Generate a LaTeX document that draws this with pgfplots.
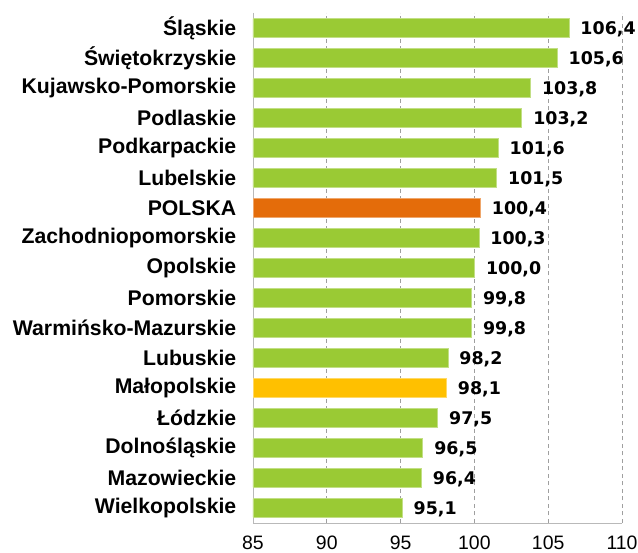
\documentclass[border=0pt]{standalone}
\usepackage{fontspec}
\usepackage{pgfplots}
\pgfplotsset{compat=1.18}
\setmainfont{Liberation Sans}
\newfontfamily\catfont{Liberation Sans}
\newfontfamily\valfont{DejaVu Sans}
\definecolor{barGreen}{RGB}{154,202,52}
\definecolor{barOrange}{RGB}{228,108,10}
\definecolor{barYellow}{RGB}{255,192,0}
\begin{document}
\begin{tikzpicture}
\begin{axis}[
  scale only axis,
  width=369bp, height=510bp,
  xbar, bar shift=0pt, bar width=0.63,
  xmin=85, xmax=110, ymin=-0.5, ymax=16.5,
  clip mode=individual,
  axis lines*=left,
  axis line style={draw=gray!55, line width=0.8pt, -},
  xtick={85,90,95,100,105,110},
  xmajorgrids,
  grid style={draw=gray!75, dash pattern=on 4bp off 3.5bp, line width=0.6pt},
  tick style={draw=none},
  ytick={0,...,16},
  yticklabels={Wielkopolskie,Mazowieckie,Dolnośląskie,Łódzkie,Małopolskie,Lubuskie,Warmińsko-Mazurskie,Pomorskie,Opolskie,Zachodniopomorskie,POLSKA,Lubelskie,Podkarpackie,Podlaskie,Kujawsko-Pomorskie,Świętokrzyskie,Śląskie},
  yticklabel style={font=\catfont\bfseries\fontsize{21.3}{23}\selectfont, xshift=-9bp},
  xticklabel style={font=\catfont\fontsize{19.5}{21}\selectfont, yshift=-9bp},
  /pgf/number format/assume math mode=true,
  nodes near coords,
  nodes near coords style={font=\valfont\bfseries\fontsize{17.5}{19}\selectfont, anchor=west, xshift=8bp, yshift=-1bp,
    /pgf/number format/.cd, fixed, fixed zerofill, precision=1, use comma, assume math mode=true},
]
\addplot[fill=barGreen, draw=barGreen!60!white, line width=0.6pt] coordinates {
  (95.1,0) (96.4,1) (96.5,2) (97.5,3) (98.2,5) (99.8,6) (99.8,7) (100.0,8) (100.3,9)
  (101.5,11) (101.6,12) (103.2,13) (103.8,14) (105.6,15) (106.4,16)};
\addplot[fill=barOrange, draw=barOrange!60!white, line width=0.6pt] coordinates {(100.4,10)};
\addplot[fill=barYellow, draw=barYellow!60!white, line width=0.6pt] coordinates {(98.1,4)};
\end{axis}
\pgfresetboundingbox
\path ([xshift=-253bp,yshift=-30bp]current axis.south west) rectangle ([xshift=16bp,yshift=13bp]current axis.north east);
\end{tikzpicture}
\end{document}
